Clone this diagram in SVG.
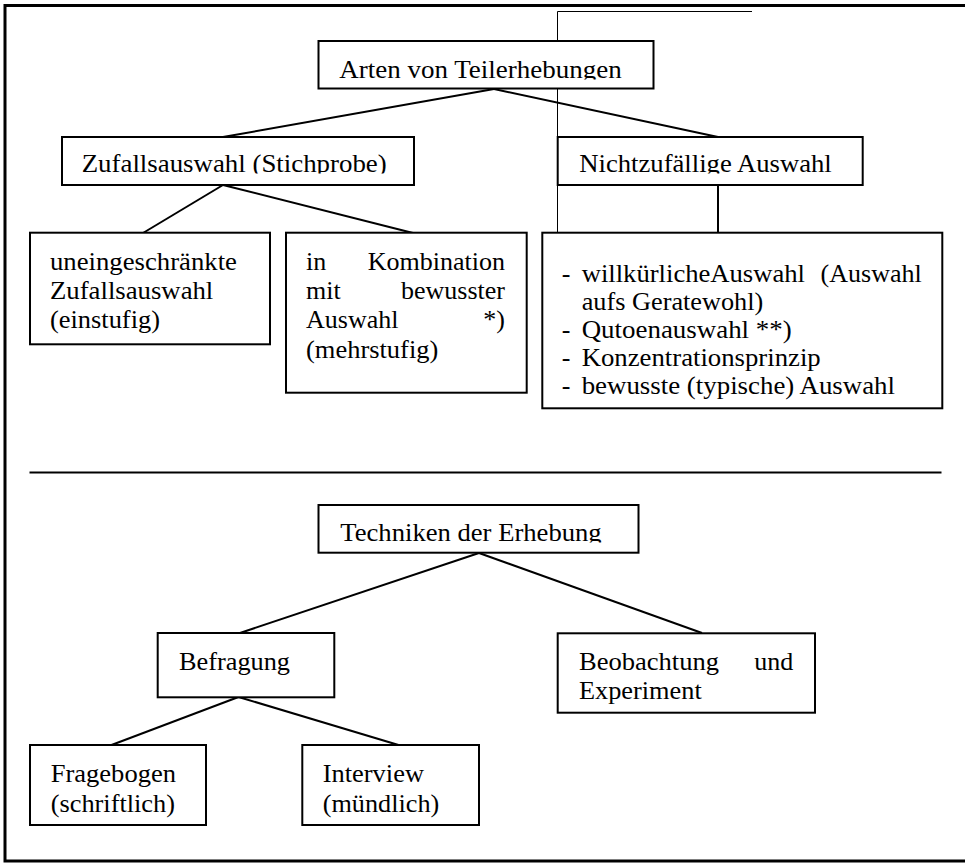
<svg xmlns="http://www.w3.org/2000/svg" width="965" height="863" viewBox="0 0 965 863">
<style>
  .box { fill: #fff; stroke: #000; stroke-width: 2; }
  .con { stroke: #000; stroke-width: 2; fill: none; }
  .thin { stroke: #000; stroke-width: 1; fill: none; }
  .frame { stroke: #000; stroke-width: 3; fill: none; }
  text { font-family: "Liberation Serif", "Times New Roman", serif; font-size: 26px; fill: #000; }
</style>
<defs>
  <clipPath id="c1"><rect x="318" y="41" width="336" height="38.5"/></clipPath>
  <clipPath id="c2"><rect x="62" y="137" width="352" height="36.5"/></clipPath>
  <clipPath id="c3"><rect x="558" y="137" width="305" height="36.5"/></clipPath>
  <clipPath id="c4"><rect x="318" y="505" width="321" height="37.5"/></clipPath>
</defs>
<rect width="965" height="863" fill="#fff"/>

<g id="frame">
  <path class="frame" d="M965 5.5 H5 V861 H965"/>
  <line x1="29.5" y1="472.5" x2="941.5" y2="472.5" stroke="#000" stroke-width="2"/>
</g>

<g id="connectors">
  <path class="thin" d="M752 11.5 H557.5 V233"/>
  <line class="con" x1="494" y1="89" x2="223" y2="137"/>
  <line class="con" x1="494" y1="89" x2="718" y2="137"/>
  <line class="con" x1="718" y1="185" x2="718" y2="233" stroke-width="1.5"/>
  <line class="con" x1="223" y1="185" x2="143" y2="233"/>
  <line class="con" x1="223" y1="185" x2="413" y2="233"/>
  <line class="con" x1="479" y1="553" x2="240" y2="633"/>
  <line class="con" x1="479" y1="553" x2="702" y2="633"/>
  <line class="con" x1="238.5" y1="697" x2="111.5" y2="745"/>
  <line class="con" x1="238.5" y1="697" x2="398.5" y2="745"/>
</g>

<g id="n-arten">
  <rect class="box" x="318.5" y="41" width="335" height="47.5"/>
  <text x="339.3" y="77.5" textLength="282.4" lengthAdjust="spacingAndGlyphs" clip-path="url(#c1)">Arten von Teilerhebungen</text>
</g>

<g id="n-zufall">
  <rect class="box" x="62" y="137" width="352" height="48"/>
  <text x="81.7" y="171.7" textLength="305" lengthAdjust="spacingAndGlyphs" clip-path="url(#c2)">Zufallsauswahl (Stichprobe)</text>
</g>

<g id="n-nicht">
  <rect class="box" x="557.7" y="137" width="305" height="48"/>
  <text x="579.3" y="171.7" textLength="252.4" lengthAdjust="spacingAndGlyphs" clip-path="url(#c3)">Nichtzufällige Auswahl</text>
</g>

<g id="n-uneing">
  <rect class="box" x="30" y="232.7" width="240" height="111.6"/>
  <text x="50" y="270" textLength="187" lengthAdjust="spacingAndGlyphs">uneingeschränkte</text>
  <text x="50" y="299" textLength="163.3" lengthAdjust="spacingAndGlyphs">Zufallsauswahl</text>
  <text x="50" y="327.5" textLength="110" lengthAdjust="spacingAndGlyphs">(einstufig)</text>
</g>

<g id="n-kombi">
  <rect class="box" x="286" y="232.7" width="240.7" height="160"/>
  <text x="306" y="270">in</text>
  <text x="505" y="270" text-anchor="end">Kombination</text>
  <text x="306" y="299">mit</text>
  <text x="505" y="299" text-anchor="end">bewusster</text>
  <text x="306" y="328">Auswahl</text>
  <text x="505" y="328" text-anchor="end">*)</text>
  <text x="306" y="358" textLength="132.3" lengthAdjust="spacingAndGlyphs">(mehrstufig)</text>
</g>

<g id="n-nichtlist">
  <rect class="box" x="542.3" y="232.7" width="400" height="175.6"/>
  <text x="561.7" y="282">-</text>
  <text x="581.7" y="282" textLength="223.3" lengthAdjust="spacingAndGlyphs">willkürlicheAuswahl</text>
  <text x="921.7" y="282" text-anchor="end">(Auswahl</text>
  <text x="581.7" y="310" textLength="181.6" lengthAdjust="spacingAndGlyphs">aufs Geratewohl)</text>
  <text x="561.7" y="338">-</text>
  <text x="581.7" y="338" textLength="210" lengthAdjust="spacingAndGlyphs">Qutoenauswahl **)</text>
  <text x="561.7" y="366">-</text>
  <text x="581.7" y="366" textLength="239" lengthAdjust="spacingAndGlyphs">Konzentrationsprinzip</text>
  <text x="561.7" y="394">-</text>
  <text x="581.7" y="394" textLength="313.3" lengthAdjust="spacingAndGlyphs">bewusste (typische) Auswahl</text>
</g>

<g id="n-techniken">
  <rect class="box" x="318.5" y="505" width="320" height="47.7"/>
  <text x="340.3" y="540.7" textLength="261.4" lengthAdjust="spacingAndGlyphs" clip-path="url(#c4)">Techniken der Erhebung</text>
</g>

<g id="n-befragung">
  <rect class="box" x="157.7" y="633" width="176.6" height="64.3"/>
  <text x="179" y="670" textLength="111" lengthAdjust="spacingAndGlyphs">Befragung</text>
</g>

<g id="n-beob">
  <rect class="box" x="557.7" y="633.3" width="257.3" height="79.4"/>
  <text x="579" y="670" textLength="140" lengthAdjust="spacingAndGlyphs">Beobachtung</text>
  <text x="793.3" y="670" text-anchor="end">und</text>
  <text x="579" y="698.5" textLength="122.7" lengthAdjust="spacingAndGlyphs">Experiment</text>
</g>

<g id="n-fragebogen">
  <rect class="box" x="30" y="745" width="176" height="80"/>
  <text x="50.7" y="781.7" textLength="125.3" lengthAdjust="spacingAndGlyphs">Fragebogen</text>
  <text x="50.7" y="811.7" textLength="124.3" lengthAdjust="spacingAndGlyphs">(schriftlich)</text>
</g>

<g id="n-interview">
  <rect class="box" x="302.3" y="745" width="176.7" height="80"/>
  <text x="322.7" y="781.7" textLength="101.3" lengthAdjust="spacingAndGlyphs">Interview</text>
  <text x="322.7" y="811.7" textLength="116.6" lengthAdjust="spacingAndGlyphs">(mündlich)</text>
</g>
</svg>
